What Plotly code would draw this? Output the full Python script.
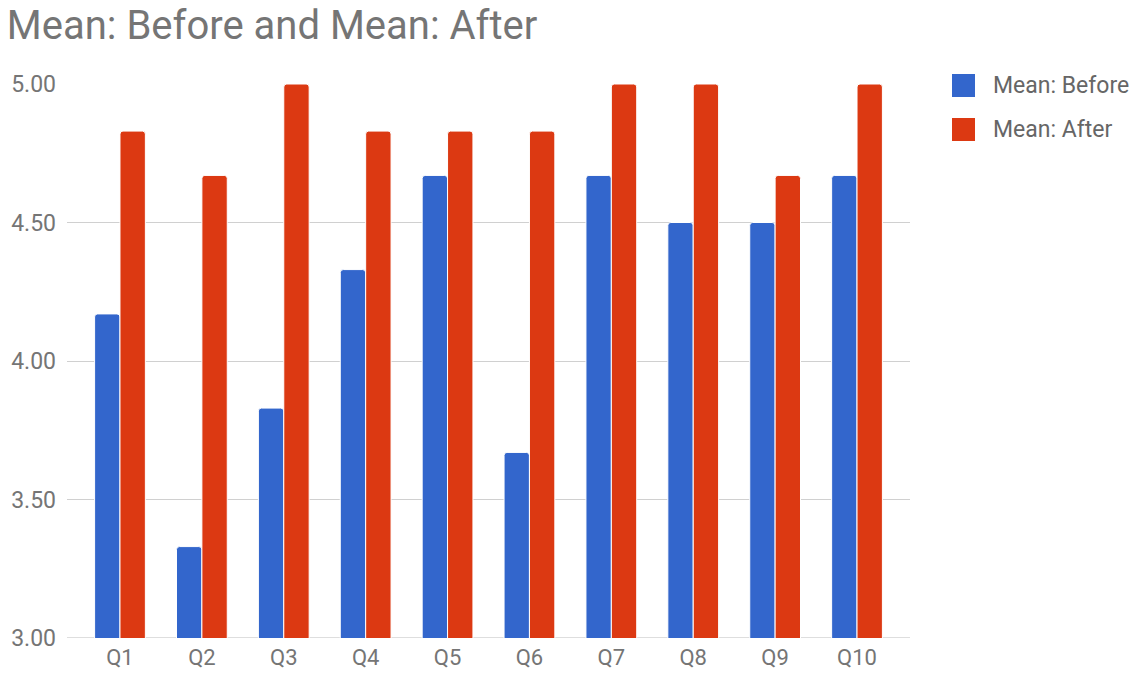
import plotly.graph_objects as go

categories = ["Q1", "Q2", "Q3", "Q4", "Q5", "Q6", "Q7", "Q8", "Q9", "Q10"]
mean_before = [4.17, 3.33, 3.83, 4.33, 4.67, 3.67, 4.67, 4.50, 4.50, 4.67]
mean_after = [4.83, 4.67, 5.00, 4.83, 4.83, 4.83, 5.00, 5.00, 4.67, 5.00]
y_ticks = [3.0, 3.5, 4.0, 4.5, 5.0]
series_names = ["Mean: Before", "Mean: After"]

BLUE = "#3366cc"
RED = "#dc3912"
TEXT = "#757575"
W, H = 1139, 675
L, R, T, B = 67, 229, 84, 37

fig = go.Figure()
for name, vals, col in zip(series_names, [mean_before, mean_after], [BLUE, RED]):
    fig.add_trace(go.Bar(
        name=name, x=categories, y=vals,
        marker=dict(color=col, line=dict(color="white", width=1), cornerradius=3),
        showlegend=False,
    ))

# Legend drawn as large swatches with labels to the right of the plot area
plot_w = W - L - R
plot_h = H - T - B
def px_x(px):
    return (px - L) / plot_w
def px_y(py):
    return (H - B - py) / plot_h

for i, (name, col) in enumerate(zip(series_names, [BLUE, RED])):
    top = 74 + 44 * i
    fig.add_shape(type="rect", xref="paper", yref="paper",
                  x0=px_x(952), x1=px_x(975), y0=px_y(top + 23), y1=px_y(top),
                  fillcolor=col, line=dict(width=0), layer="above")
    fig.add_annotation(xref="paper", yref="paper", x=px_x(991), y=px_y(top + 11.5),
                       text=name, showarrow=False, xanchor="left", yanchor="middle",
                       font=dict(size=23, color="#666666"))

# Slightly darker baseline along the bottom of the plot
fig.add_shape(type="line", xref="paper", yref="y", x0=0, x1=1, y0=3.0, y1=3.0,
              line=dict(color="#bdbdbd", width=1), layer="below")

fig.update_layout(
    width=W, height=H,
    margin=dict(l=L, r=R, t=T, b=B),
    paper_bgcolor="white", plot_bgcolor="white",
    font=dict(family="Roboto, Arial, sans-serif", color=TEXT, size=22),
    title=dict(text="Mean: Before and Mean: After", x=0.006, xanchor="left",
               y=1 - 25 / H, yanchor="middle",
               font=dict(size=40, color=TEXT)),
    barmode="group", bargap=0.38, bargroupgap=0.0,
    showlegend=False,
    xaxis=dict(
        range=[-0.647, 9.647], showgrid=False, zeroline=False,
        showline=False, ticks="", automargin=False, ticklabelstandoff=4,
        tickfont=dict(size=22, color=TEXT),
    ),
    yaxis=dict(
        range=[3.0, 5.0], tickvals=y_ticks,
        ticktext=[f"{v:.2f}" for v in y_ticks],
        showgrid=True, gridcolor="#d0d0d0", gridwidth=1,
        zeroline=False, showline=False, ticks="", automargin=False,
        tickfont=dict(size=23, color=TEXT), ticklabelstandoff=10,
    ),
)

fig.write_html("out.html")
